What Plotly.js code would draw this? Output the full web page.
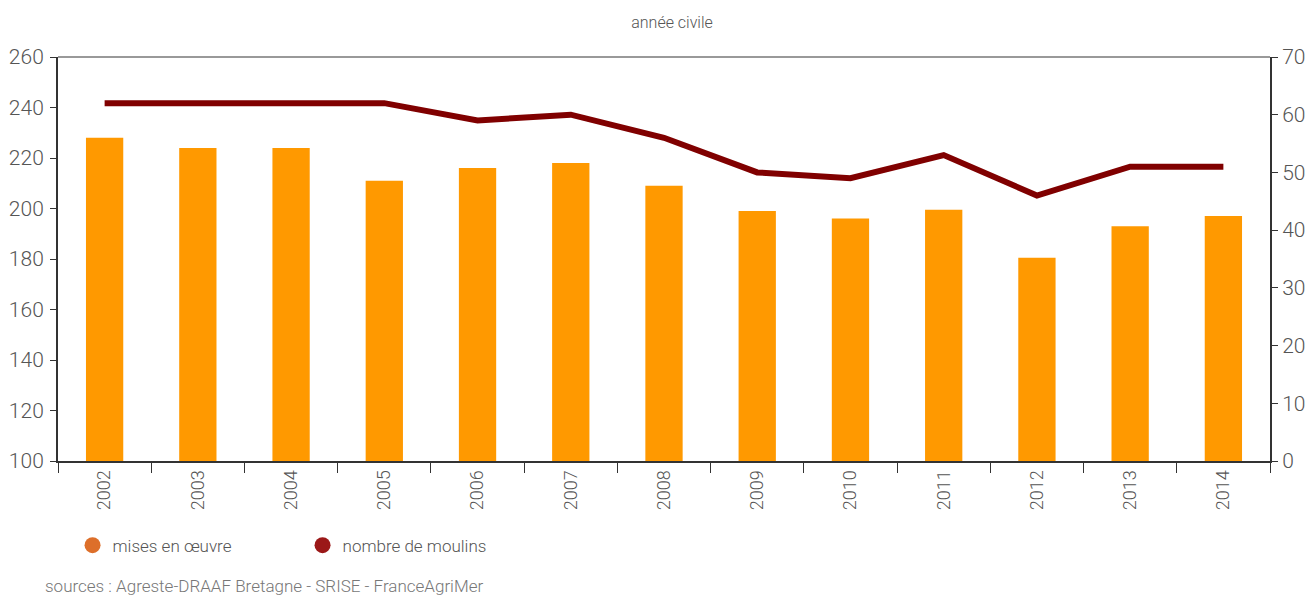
<!DOCTYPE html>
<html>
<head>
<meta charset="utf-8">
<script src="https://cdn.plot.ly/plotly-3.0.1.min.js"></script>
<style>html,body{margin:0;padding:0;background:#fff;}#chart{width:1310px;height:595px;}</style>
</head>
<body>
<div id="chart"></div>
<script>
var years = ["2002","2003","2004","2005","2006","2007","2008","2009","2010","2011","2012","2013","2014"];
var misesEnOeuvre = [228, 224, 224, 211, 216, 218, 209, 199, 196, 199.5, 180.5, 193, 197];
var nombreMoulins = [62, 62, 62, 62, 59, 60, 56, 50, 49, 53, 46, 51, 51];
var leftTicks = [100,120,140,160,180,200,220,240,260];
var rightTicks = [0,10,20,30,40,50,60,70];

var FONT = "Roboto, 'DejaVu Sans', sans-serif";
var GRAY = "#555555";

var traces = [
  {type:"bar", x: years, y: misesEnOeuvre, name:"mises en œuvre", marker:{color:"#FF9900"}, width:0.4, showlegend:false, yaxis:"y"},
  {type:"scatter", mode:"lines", x: years, y: nombreMoulins, name:"nombre de moulins", line:{color:"#800000", width:6}, yaxis:"y2", showlegend:false},
  {type:"scatter", mode:"markers", x:[null], y:[null], name:"mises en œuvre", marker:{color:"#DD6F2A", size:16, symbol:"circle"}, showlegend:true},
  {type:"scatter", mode:"markers", x:[null], y:[null], name:"nombre de moulins", marker:{color:"#9B1818", size:16, symbol:"circle"}, showlegend:true}
];

var layout = {
  width:1310, height:595,
  margin:{l:58, r:40, t:57, b:134},
  paper_bgcolor:"#fff", plot_bgcolor:"#fff",
  font:{family:FONT, color:GRAY, weight:300},
  title:{text:"année civile", x:0.513, xanchor:"center", y:0.962, yanchor:"middle", font:{size:16, color:GRAY, family:FONT, weight:300}},
  xaxis:{type:"category", tickson:"boundaries", ticks:"outside", ticklen:10, tickcolor:"#333", tickwidth:1,
         tickangle:-90, tickfont:{size:18, color:GRAY, weight:300}, showline:true, linecolor:"#333", linewidth:2,
         showgrid:false, zeroline:false, fixedrange:true},
  yaxis:{range:[100,260], tickvals:leftTicks, ticks:"outside", ticklen:6, tickcolor:"#333", tickfont:{size:21, color:GRAY, weight:300},
         showline:true, linecolor:"#333", linewidth:2, showgrid:false, zeroline:false, ticklabelstandoff:2},
  yaxis2:{overlaying:"y", side:"right", range:[0,70], tickvals:rightTicks, ticks:"outside", ticklen:6, tickcolor:"#333",
          tickfont:{size:21, color:GRAY, weight:300}, showline:true, linecolor:"#333", linewidth:2, showgrid:false, zeroline:false},
  legend:{orientation:"h", x:0.012, y:-0.165, xanchor:"left", yanchor:"top", font:{size:17, color:GRAY, weight:300}, itemwidth:30, tracegroupgap:0, entrywidth:185},
  shapes:[{type:"line", xref:"paper", yref:"paper", x0:0, x1:1, y0:1, y1:1, line:{color:"#999", width:2}}],
  annotations:[{text:"sources : Agreste-DRAAF Bretagne - SRISE - FranceAgriMer", xref:"paper", yref:"paper", x:-0.012, y:-0.31,
                xanchor:"left", yanchor:"middle", showarrow:false, font:{size:17, color:"#777", family:FONT, weight:300}}],
  bargap:0.6
};
Plotly.newPlot("chart", traces, layout, {displayModeBar:false, staticPlot:true});
</script>
</body>
</html>
